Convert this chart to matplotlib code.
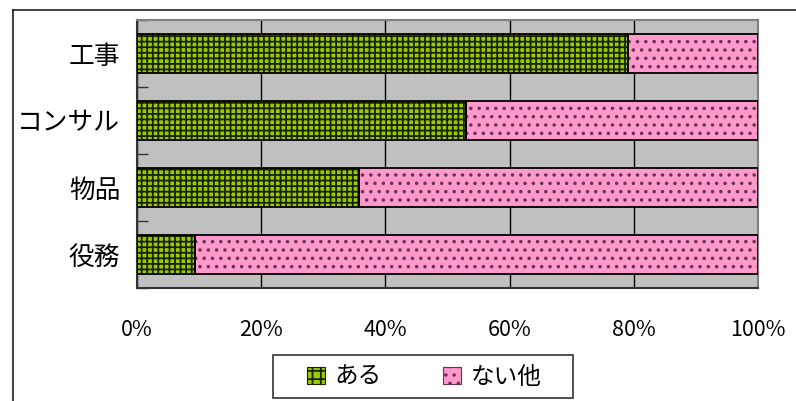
import matplotlib.pyplot as plt
import matplotlib.patches as mpatches
from matplotlib.lines import Line2D
import numpy as np

plt.rcParams['font.family'] = ['Noto Sans CJK JP', 'DejaVu Sans']
plt.rcParams['hatch.linewidth'] = 1.3

categories = ['工事', 'コンサル', '物品', '役務']
aru = [79.0, 53.0, 35.7, 9.3]
nai = [21.0, 47.0, 64.3, 90.7]
series_names = ['ある', 'ない他']
xticks = [0, 20, 40, 60, 80, 100]
xtick_labels = ['0%', '20%', '40%', '60%', '80%', '100%']

green = '#99CC00'
pink = '#FF99CC'

fig = plt.figure(figsize=(7.96, 4.01), dpi=100)
W, H = 796, 401
ax = fig.add_axes([137 / W, 1 - 288 / H, (758 - 137) / W, (288 - 20) / H])
ax.set_facecolor('#C0C0C0')

y = np.arange(len(categories))[::-1]
h = 0.57

# hatched fills first, then a plain black outline on top
ax.barh(y, aru, height=h, color=green, edgecolor='#1a2200', hatch='+++', linewidth=0, zorder=3)
ax.barh(y, nai, left=aru, height=h, color=pink, edgecolor='#663355', hatch='..', linewidth=0, zorder=3)
ax.barh(y, aru, height=h, fill=False, edgecolor='black', linewidth=1.3, zorder=4)
ax.barh(y, nai, left=aru, height=h, fill=False, edgecolor='black', linewidth=1.3, zorder=4)

ax.set_xlim(0, 100)
ax.set_ylim(-0.5, len(categories) - 0.5)
ax.set_xticks(xticks)
ax.set_xticklabels(xtick_labels, fontsize=15.5)
ax.tick_params(axis='x', length=0, pad=22)
ax.grid(axis='x', color='black', linewidth=1, zorder=1)
ax.set_axisbelow(True)

ax.set_yticks(y)
ax.set_yticklabels(categories, fontsize=18.5)
ax.set_yticks(np.arange(-0.5, len(categories), 1.0), minor=True)
ax.tick_params(axis='y', which='major', length=0, pad=12)
ax.tick_params(axis='y', which='minor', direction='in', length=8, width=1, color='#333333')

for sp in ax.spines.values():
    sp.set_color('#808080')
    sp.set_linewidth(1.5)
ax.spines['left'].set_color('#333333')
ax.spines['bottom'].set_color('#333333')

# outer frame of the chart area
fig.add_artist(Line2D([13 / W, 13 / W], [0, 1 - 10 / H], color='#444444', lw=1.5))
fig.add_artist(Line2D([13 / W, 1], [1 - 10 / H, 1 - 10 / H], color='#222222', lw=1.2))

handles = [
    mpatches.Patch(facecolor=green, edgecolor='#1a2200', hatch='++', linewidth=0.8),
    mpatches.Patch(facecolor=pink, edgecolor='#663355', hatch='..', linewidth=0.8),
]
fig.legend(handles, series_names, loc='center', ncol=2,
           bbox_to_anchor=(424 / W, 1 - 377 / H),
           fontsize=17, frameon=False,
           handlelength=0.76, handleheight=0.76, handletextpad=0.4,
           columnspacing=2.6, borderpad=0.3)
# legend box drawn separately: wide side padding, tight top and bottom
fig.add_artist(mpatches.Rectangle((273 / W, 1 - 398 / H), 300 / W, 43 / H,
                                  transform=fig.transFigure, fill=False,
                                  edgecolor='#333333', linewidth=1.2))

fig.savefig('out.png', dpi=100)
